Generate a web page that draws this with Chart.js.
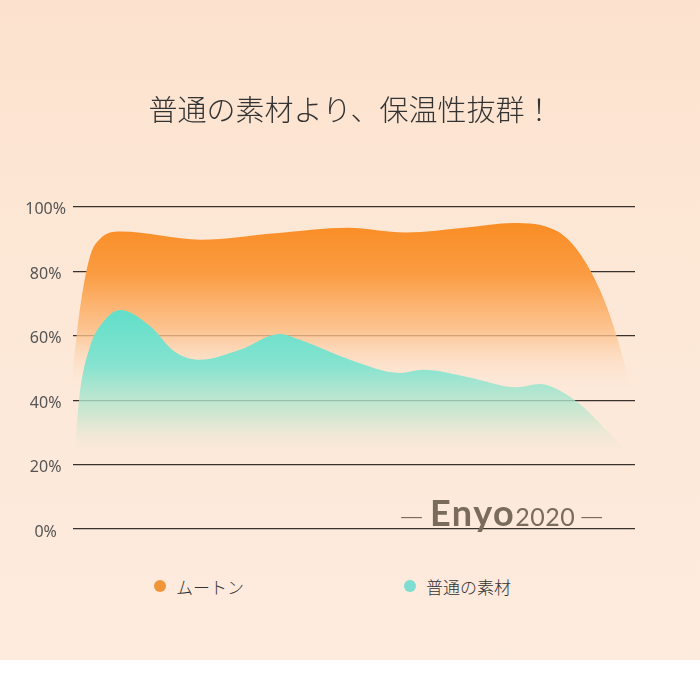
<!DOCTYPE html>
<html>
<head>
<meta charset="utf-8">
<script src="https://cdn.jsdelivr.net/npm/chart.js@4"></script>
<style>
  html, body { margin: 0; padding: 0; background: #fff; }
  .wrap {
    position: relative; width: 700px; height: 660px;
    background: linear-gradient(180deg, #fce2ce 0%, #fde8d7 45%, #fdebde 100%);
  }
  .chart-box { position: absolute; left: 0; top: 0; width: 700px; height: 560px; }
  #legend { position: absolute; left: 0; top: 573px; width: 700px; height: 26px; }
  #legend .item {
    position: absolute; top: 0; height: 26px; display: flex; align-items: center;
    font: 300 17px "Noto Sans CJK JP", sans-serif; color: #333;
  }
  #legend .dot { width: 12px; height: 12px; border-radius: 50%; margin-right: 10px; }
</style>
</head>
<body>
<div class="wrap">
  <div class="chart-box"><canvas id="myChart"></canvas></div>
  <div id="legend"></div>
</div>
<script>
// x positions are in percent of the plot width, y values in %
const muttonX = [0, 1.2, 3, 4.8, 8.4, 22.8, 36, 48.9, 59.2, 70, 78.3, 86.1, 93.8, 98.6, 100];
const muttonY = [50, 68, 84.5, 90, 92.3, 89.8, 91.8, 93.5, 92, 93.6, 95, 92.5, 74, 48, 36];

const normalX = [0.4, 1.2, 3, 4.8, 8.4, 13.7, 18.1, 22.6, 29.7, 36.8, 40.4, 49.3, 58.2, 62.3, 70.1, 79, 83.1, 86.6, 90.7, 94.3, 97.9];
const normalY = [27, 42, 56.5, 63, 68, 63, 55, 52.5, 55.6, 60.5, 58.7, 52.5, 48.4, 49.4, 47.2, 44, 45, 43, 38, 31.7, 25.5];

const seriesNames = ['ムートン', '普通の素材'];
const yTicks = [0, 20, 40, 60, 80, 100];

const orangeFill = (context) => {
  const {chart} = context;
  if (!chart.chartArea) return 'rgba(250,143,42,0.8)';
  const y = chart.scales.y;
  const g = chart.ctx.createLinearGradient(0, y.getPixelForValue(94), 0, y.getPixelForValue(44));
  g.addColorStop(0, '#f98e27');
  g.addColorStop(0.3, '#fb9c42');
  g.addColorStop(0.65, 'rgba(252,190,134,0.85)');
  g.addColorStop(1, 'rgba(253,228,208,0)');
  return g;
};

const tealFill = (context) => {
  const {chart} = context;
  if (!chart.chartArea) return 'rgba(104,224,204,0.8)';
  const y = chart.scales.y;
  const g = chart.ctx.createLinearGradient(0, y.getPixelForValue(66), 0, y.getPixelForValue(22));
  g.addColorStop(0, '#65dfca');
  g.addColorStop(0.35, '#86e3cf');
  g.addColorStop(0.7, 'rgba(190,230,205,0.7)');
  g.addColorStop(1, 'rgba(253,232,216,0)');
  return g;
};

const watermark = {
  id: 'watermark',
  afterDraw(chart) {
    const {ctx} = chart;
    ctx.save();
    ctx.fillStyle = '#7a6c5a';
    ctx.textBaseline = 'alphabetic';
    let x = 400;
    const dashFont = '300 26px "Noto Sans CJK JP"';
    ctx.font = dashFont;
    ctx.fillText('—', x, 525);
    x += ctx.measureText('—').width + 7;
    ctx.font = 'bold 36px Lato';
    ctx.letterSpacing = '1.5px';
    ctx.fillText('Enyo', x, 526);
    x += ctx.measureText('Enyo').width;
    ctx.font = '25px Lato';
    ctx.letterSpacing = '0.5px';
    ctx.fillText('2020', x, 526);
    x += ctx.measureText('2020').width + 5;
    ctx.letterSpacing = '0px';
    ctx.font = dashFont;
    ctx.fillText('—', x, 525);
    ctx.restore();
  }
};

const htmlLegend = {
  id: 'htmlLegend',
  afterUpdate(chart) {
    const box = document.getElementById('legend');
    box.innerHTML = '';
    const lefts = [154, 404];
    chart.data.datasets.forEach((ds, i) => {
      const item = document.createElement('div');
      item.className = 'item';
      item.style.left = lefts[i] + 'px';
      const dot = document.createElement('span');
      dot.className = 'dot';
      dot.style.background = ds.legendColor;
      item.appendChild(dot);
      item.appendChild(document.createTextNode(ds.label));
      box.appendChild(item);
    });
  }
};

const ctx = document.getElementById('myChart');

new Chart(ctx, {
  type: 'line',
  data: {
    datasets: [{
      label: seriesNames[0],
      data: muttonX.map((x, i) => ({x, y: muttonY[i]})),
      backgroundColor: orangeFill,
      legendColor: '#f09538',
      borderWidth: 0,
      pointRadius: 0,
      fill: 'origin',
      cubicInterpolationMode: 'monotone',
      order: 1
    }, {
      label: seriesNames[1],
      data: normalX.map((x, i) => ({x, y: normalY[i]})),
      backgroundColor: tealFill,
      legendColor: '#7dddd0',
      borderWidth: 0,
      pointRadius: 0,
      fill: 'origin',
      cubicInterpolationMode: 'monotone',
      order: 0
    }]
  },
  options: {
    responsive: true,
    maintainAspectRatio: false,
    animation: false,
    layout: { padding: { left: 20, right: 18, bottom: 31 } },
    plugins: {
      legend: { display: false },
      tooltip: { enabled: false },
      title: {
        display: true,
        text: '普通の素材より、保温性抜群！',
        color: '#333',
        font: { family: '"Noto Sans CJK JP", sans-serif', size: 29, weight: 300 },
        padding: { top: 93, bottom: 79 }
      }
    },
    scales: {
      x: { type: 'linear', min: 0, max: 100, display: false },
      y: {
        min: 0, max: 100,
        z: 1,
        afterFit: (scale) => { scale.width = 53; },
        afterBuildTicks: (scale) => { scale.ticks = yTicks.map(v => ({value: v})); },
        border: { display: false },
        grid: { color: '#3a332d', lineWidth: 1.2, drawTicks: false },
        ticks: {
          padding: 7,
          crossAlign: 'center',
          labelOffset: 3,
          color: '#555',
          font: { family: '"Noto Sans", sans-serif', size: 16 },
          callback: (v) => v + '%'
        }
      },
      yRight: {
        position: 'right',
        min: 0, max: 100,
        afterFit: (scale) => { scale.width = 47; },
        border: { display: false },
        grid: { display: false },
        ticks: { display: false }
      }
    }
  },
  plugins: [watermark, htmlLegend]
});
</script>
</body>
</html>
